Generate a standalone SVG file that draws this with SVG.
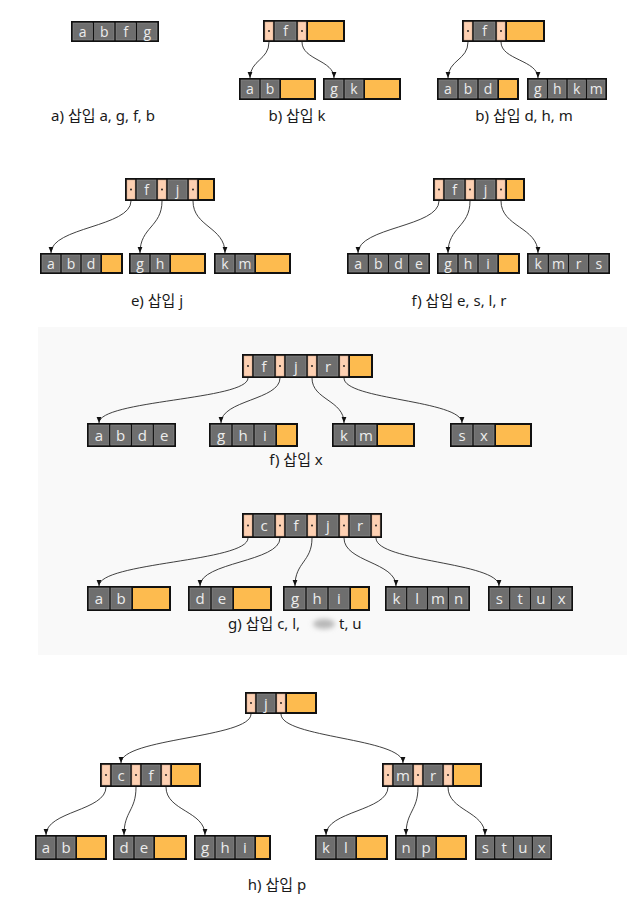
<svg xmlns="http://www.w3.org/2000/svg" width="627" height="921" viewBox="0 0 627 921">
<defs>
<style>
.bx{fill:#111}
.k{fill:#6e6e6e;stroke:#8c8c8c;stroke-width:0.6}
.p{fill:#fdd0b2;stroke:#c9a58c;stroke-width:0.5}
.o{fill:#fdbb4f}
.d{fill:#111}
.t{font-family:"Open Sans","DejaVu Sans",sans-serif;font-size:14px;fill:#ececec;text-anchor:middle}
.t2{font-family:"Open Sans","DejaVu Sans",sans-serif;font-size:15px;fill:#ececec;text-anchor:middle}
.cap{font-family:"Noto Sans","Noto Sans CJK KR",sans-serif;font-size:15px;fill:#1a1a1a;text-anchor:middle}
.e{fill:none;stroke:#2a2a2a;stroke-width:0.9}
</style>
<marker id="ah" viewBox="0 0 10 10" refX="10" refY="5" markerUnits="userSpaceOnUse" markerWidth="6" markerHeight="6" orient="auto"><path d="M0,1 L10,5 L0,9 z" fill="#111"/></marker>
<filter id="bl" x="-50%" y="-50%" width="200%" height="200%"><feGaussianBlur stdDeviation="2.5"/></filter>
</defs>
<rect x="0" y="0" width="627" height="921" fill="#ffffff"/>
<rect x="38" y="327" width="589" height="328" fill="#f9f9f9"/>

<g id="connectors" marker-end="url(#ah)">
<path class="e" d="M269,42 C269,60 250,60 250,78"/>
<path class="e" d="M302,42 C302,60 334,60 334,78"/>
<path class="e" d="M468,42 C468,60 448,60 448,78"/>
<path class="e" d="M501,42 C501,60 538,60 538,78"/>
<path class="e" d="M131,201 C131,227 51,227 51,253"/>
<path class="e" d="M162,201 C162,227 140,227 140,253"/>
<path class="e" d="M193,201 C193,227 225,227 225,253"/>
<path class="e" d="M439,201 C439,227 358,227 358,253"/>
<path class="e" d="M470,201 C470,227 448,227 448,253"/>
<path class="e" d="M501,201 C501,227 538,227 538,253"/>
<path class="e" d="M248,378 C248,400 99,400 99,423"/>
<path class="e" d="M280,378 C280,400 221,400 221,423"/>
<path class="e" d="M312,378 C312,400 344,400 344,423"/>
<path class="e" d="M344,378 C344,400 462,400 462,423"/>
<path class="e" d="M248,538 C248,562 99,562 99,586"/>
<path class="e" d="M280,538 C280,562 200,562 200,586"/>
<path class="e" d="M312,538 C312,562 295,562 295,586"/>
<path class="e" d="M344,538 C344,562 396,562 396,586"/>
<path class="e" d="M376,538 C376,562 499,562 499,586"/>
<path class="e" d="M251,714 C251,738 121,738 121,763"/>
<path class="e" d="M281,714 C281,738 403,738 403,763"/>
<path class="e" d="M106,787 C106,811 46,811 46,835"/>
<path class="e" d="M136,787 C136,811 124,811 124,835"/>
<path class="e" d="M166,787 C166,811 205,811 205,835"/>
<path class="e" d="M388,787 C388,811 326,811 326,835"/>
<path class="e" d="M418,787 C418,811 406,811 406,835"/>
<path class="e" d="M448,787 C448,811 485,811 485,835"/>
</g>

<!-- Row 1 -->
<g id="a1">
<rect class="bx" x="71" y="21" width="88" height="21"/>
<rect class="k" x="73" y="23" width="19.5" height="17"/><rect class="k" x="94.5" y="23" width="19.5" height="17"/><rect class="k" x="116" y="23" width="19.5" height="17"/><rect class="k" x="137.5" y="23" width="19.5" height="17"/>
<text class="t" y="36.5"><tspan x="82.75">a</tspan><tspan x="104.25">b</tspan><tspan x="125.75">f</tspan><tspan x="147.25">g</tspan></text>
</g>
<g id="b-top">
<rect class="bx" x="263" y="20" width="82" height="22"/>
<rect class="p" x="265" y="22" width="8" height="18"/><rect class="k" x="275" y="22" width="21" height="18"/><rect class="p" x="298" y="22" width="8" height="18"/><rect class="o" x="308" y="22" width="35" height="18"/>
<circle class="d" cx="269" cy="31" r="0.9"/><circle class="d" cx="302" cy="31" r="0.9"/>
<text class="t" x="285.5" y="36">f</text>
</g>
<g id="b-c1">
<rect class="bx" x="239" y="78" width="77" height="22"/>
<rect class="k" x="241" y="80" width="18" height="18"/><rect class="k" x="261" y="80" width="18" height="18"/><rect class="o" x="281" y="80" width="33" height="18"/>
<text class="t" y="94"><tspan x="250">a</tspan><tspan x="270">b</tspan></text>
</g>
<g id="b-c2">
<rect class="bx" x="323" y="78" width="78" height="22"/>
<rect class="k" x="325" y="80" width="18" height="18"/><rect class="k" x="345" y="80" width="18" height="18"/><rect class="o" x="365" y="80" width="34" height="18"/>
<text class="t" y="94"><tspan x="334">g</tspan><tspan x="354">k</tspan></text>
</g>
<g id="c-top">
<rect class="bx" x="462" y="20" width="83" height="22"/>
<rect class="p" x="464" y="22" width="8" height="18"/><rect class="k" x="474" y="22" width="21" height="18"/><rect class="p" x="497" y="22" width="8" height="18"/><rect class="o" x="507" y="22" width="36" height="18"/>
<circle class="d" cx="468" cy="31" r="0.9"/><circle class="d" cx="501" cy="31" r="0.9"/>
<text class="t" x="484.5" y="36">f</text>
</g>
<g id="c-c1">
<rect class="bx" x="437" y="78" width="82" height="22"/>
<rect class="k" x="439" y="80" width="18" height="18"/><rect class="k" x="459" y="80" width="18" height="18"/><rect class="k" x="479" y="80" width="18" height="18"/><rect class="o" x="499" y="80" width="18" height="18"/>
<text class="t" y="94"><tspan x="448">a</tspan><tspan x="468">b</tspan><tspan x="488">d</tspan></text>
</g>
<g id="c-c2">
<rect class="bx" x="527" y="78" width="80" height="22"/>
<rect class="k" x="529" y="80" width="17.5" height="18"/><rect class="k" x="548.5" y="80" width="17.5" height="18"/><rect class="k" x="568" y="80" width="17.5" height="18"/><rect class="k" x="587.5" y="80" width="17.5" height="18"/>
<text class="t" y="94"><tspan x="537.75">g</tspan><tspan x="557.25">h</tspan><tspan x="576.75">k</tspan><tspan x="596.25">m</tspan></text>
</g>
<text class="cap" x="103" y="121">a) 삽입 a, g, f, b</text>
<text class="cap" x="297" y="121">b) 삽입 k</text>
<text class="cap" x="524" y="121">b) 삽입 d, h, m</text>

<!-- Row 2 -->
<g id="e-top">
<rect class="bx" x="125" y="178" width="90" height="23"/>
<rect class="p" x="127" y="180" width="8" height="19"/><rect class="k" x="137" y="180" width="19" height="19"/><rect class="p" x="158" y="180" width="8" height="19"/><rect class="k" x="168" y="180" width="19" height="19"/><rect class="p" x="189" y="180" width="8" height="19"/><rect class="o" x="199" y="180" width="14" height="19"/>
<circle class="d" cx="131" cy="189.5" r="0.9"/><circle class="d" cx="162" cy="189.5" r="0.9"/><circle class="d" cx="193" cy="189.5" r="0.9"/>
<text class="t" y="194.5"><tspan x="146.5">f</tspan><tspan x="177.5">j</tspan></text>
</g>
<g id="e-c1">
<rect class="bx" x="40" y="253" width="83" height="21"/>
<rect class="k" x="42" y="255" width="18" height="17"/><rect class="k" x="62" y="255" width="18" height="17"/><rect class="k" x="82" y="255" width="18" height="17"/><rect class="o" x="102" y="255" width="19" height="17"/>
<text class="t" y="268.5"><tspan x="51">a</tspan><tspan x="71">b</tspan><tspan x="91">d</tspan></text>
</g>
<g id="e-c2">
<rect class="bx" x="129" y="253" width="77" height="21"/>
<rect class="k" x="131" y="255" width="18" height="17"/><rect class="k" x="151" y="255" width="18" height="17"/><rect class="o" x="171" y="255" width="33" height="17"/>
<text class="t" y="268.5"><tspan x="140">g</tspan><tspan x="160">h</tspan></text>
</g>
<g id="e-c3">
<rect class="bx" x="214" y="253" width="77" height="21"/>
<rect class="k" x="216" y="255" width="18" height="17"/><rect class="k" x="236" y="255" width="18" height="17"/><rect class="o" x="256" y="255" width="33" height="17"/>
<text class="t" y="268.5"><tspan x="225">k</tspan><tspan x="245">m</tspan></text>
</g>
<g id="f-top">
<rect class="bx" x="433" y="178" width="92" height="23"/>
<rect class="p" x="435" y="180" width="8" height="19"/><rect class="k" x="445" y="180" width="19" height="19"/><rect class="p" x="466" y="180" width="8" height="19"/><rect class="k" x="476" y="180" width="19" height="19"/><rect class="p" x="497" y="180" width="8" height="19"/><rect class="o" x="507" y="180" width="16" height="19"/>
<circle class="d" cx="439" cy="189.5" r="0.9"/><circle class="d" cx="470" cy="189.5" r="0.9"/><circle class="d" cx="501" cy="189.5" r="0.9"/>
<text class="t" y="194.5"><tspan x="454.5">f</tspan><tspan x="485.5">j</tspan></text>
</g>
<g id="f-c1">
<rect class="bx" x="347" y="253" width="83" height="21"/>
<rect class="k" x="349" y="255" width="18.25" height="17"/><rect class="k" x="369.25" y="255" width="18.25" height="17"/><rect class="k" x="389.5" y="255" width="18.25" height="17"/><rect class="k" x="409.75" y="255" width="18.25" height="17"/>
<text class="t" y="268.5"><tspan x="358.1">a</tspan><tspan x="378.4">b</tspan><tspan x="398.6">d</tspan><tspan x="418.9">e</tspan></text>
</g>
<g id="f-c2">
<rect class="bx" x="437" y="253" width="83" height="21"/>
<rect class="k" x="439" y="255" width="18" height="17"/><rect class="k" x="459" y="255" width="18" height="17"/><rect class="k" x="479" y="255" width="18" height="17"/><rect class="o" x="499" y="255" width="19" height="17"/>
<text class="t" y="268.5"><tspan x="448">g</tspan><tspan x="468">h</tspan><tspan x="488">i</tspan></text>
</g>
<g id="f-c3">
<rect class="bx" x="527" y="253" width="83" height="21"/>
<rect class="k" x="529" y="255" width="18.25" height="17"/><rect class="k" x="549.25" y="255" width="18.25" height="17"/><rect class="k" x="569.5" y="255" width="18.25" height="17"/><rect class="k" x="589.75" y="255" width="18.25" height="17"/>
<text class="t" y="268.5"><tspan x="538.1">k</tspan><tspan x="558.4">m</tspan><tspan x="578.6">r</tspan><tspan x="598.9">s</tspan></text>
</g>
<text class="cap" x="157" y="306">e) 삽입 j</text>
<text class="cap" x="459" y="306">f) 삽입 e, s, l, r</text>

<!-- Row 3 -->
<g id="x-top">
<rect class="bx" x="242" y="354" width="131" height="24"/>
<rect class="p" x="244" y="356" width="8" height="20"/><rect class="k" x="254" y="356" width="20" height="20"/><rect class="p" x="276" y="356" width="8" height="20"/><rect class="k" x="286" y="356" width="20" height="20"/><rect class="p" x="308" y="356" width="8" height="20"/><rect class="k" x="318" y="356" width="20" height="20"/><rect class="p" x="340" y="356" width="8" height="20"/><rect class="o" x="350" y="356" width="21" height="20"/>
<circle class="d" cx="248" cy="366" r="0.9"/><circle class="d" cx="280" cy="366" r="0.9"/><circle class="d" cx="312" cy="366" r="0.9"/><circle class="d" cx="344" cy="366" r="0.9"/>
<text class="t2" y="371.5"><tspan x="264">f</tspan><tspan x="296">j</tspan><tspan x="328">r</tspan></text>
</g>
<g id="x-c1">
<rect class="bx" x="87" y="423" width="89" height="24"/>
<rect class="k" x="89" y="425" width="19.75" height="20"/><rect class="k" x="110.75" y="425" width="19.75" height="20"/><rect class="k" x="132.5" y="425" width="19.75" height="20"/><rect class="k" x="154.25" y="425" width="19.75" height="20"/>
<text class="t2" y="440.5"><tspan x="98.9">a</tspan><tspan x="120.6">b</tspan><tspan x="142.4">d</tspan><tspan x="164.1">e</tspan></text>
</g>
<g id="x-c2">
<rect class="bx" x="209" y="423" width="89" height="24"/>
<rect class="k" x="211" y="425" width="20" height="20"/><rect class="k" x="233" y="425" width="20" height="20"/><rect class="k" x="255" y="425" width="20" height="20"/><rect class="o" x="277" y="425" width="19" height="20"/>
<text class="t2" y="440.5"><tspan x="221">g</tspan><tspan x="243">h</tspan><tspan x="265">i</tspan></text>
</g>
<g id="x-c3">
<rect class="bx" x="332" y="423" width="83" height="24"/>
<rect class="k" x="334" y="425" width="20" height="20"/><rect class="k" x="356" y="425" width="20" height="20"/><rect class="o" x="378" y="425" width="35" height="20"/>
<text class="t2" y="440.5"><tspan x="344">k</tspan><tspan x="366">m</tspan></text>
</g>
<g id="x-c4">
<rect class="bx" x="450" y="423" width="82" height="24"/>
<rect class="k" x="452" y="425" width="20" height="20"/><rect class="k" x="474" y="425" width="20" height="20"/><rect class="o" x="496" y="425" width="34" height="20"/>
<text class="t2" y="440.5"><tspan x="462">s</tspan><tspan x="484">x</tspan></text>
</g>
<text class="cap" x="296" y="465">f) 삽입 x</text>

<!-- Row 4 -->
<g id="g-top">
<rect class="bx" x="242" y="513" width="140" height="25"/>
<rect class="p" x="244" y="515" width="8" height="21"/><rect class="k" x="254" y="515" width="20" height="21"/><rect class="p" x="276" y="515" width="8" height="21"/><rect class="k" x="286" y="515" width="20" height="21"/><rect class="p" x="308" y="515" width="8" height="21"/><rect class="k" x="318" y="515" width="20" height="21"/><rect class="p" x="340" y="515" width="8" height="21"/><rect class="k" x="350" y="515" width="20" height="21"/><rect class="p" x="372" y="515" width="8" height="21"/>
<circle class="d" cx="248" cy="525.5" r="0.9"/><circle class="d" cx="280" cy="525.5" r="0.9"/><circle class="d" cx="312" cy="525.5" r="0.9"/><circle class="d" cx="344" cy="525.5" r="0.9"/><circle class="d" cx="376" cy="525.5" r="0.9"/>
<text class="t2" y="531"><tspan x="264">c</tspan><tspan x="296">f</tspan><tspan x="328">j</tspan><tspan x="360">r</tspan></text>
</g>
<g id="g-c1">
<rect class="bx" x="87" y="586" width="84" height="25"/>
<rect class="k" x="89" y="588" width="20" height="21"/><rect class="k" x="111" y="588" width="20" height="21"/><rect class="o" x="133" y="588" width="36" height="21"/>
<text class="t2" y="604"><tspan x="99">a</tspan><tspan x="121">b</tspan></text>
</g>
<g id="g-c2">
<rect class="bx" x="188" y="586" width="84" height="25"/>
<rect class="k" x="190" y="588" width="20" height="21"/><rect class="k" x="212" y="588" width="20" height="21"/><rect class="o" x="234" y="588" width="36" height="21"/>
<text class="t2" y="604"><tspan x="200">d</tspan><tspan x="222">e</tspan></text>
</g>
<g id="g-c3">
<rect class="bx" x="283" y="586" width="87" height="25"/>
<rect class="k" x="285" y="588" width="20" height="21"/><rect class="k" x="307" y="588" width="20" height="21"/><rect class="k" x="329" y="588" width="20" height="21"/><rect class="o" x="351" y="588" width="17" height="21"/>
<text class="t2" y="604"><tspan x="295">g</tspan><tspan x="317">h</tspan><tspan x="339">i</tspan></text>
</g>
<g id="g-c4">
<rect class="bx" x="385" y="586" width="85" height="25"/>
<rect class="k" x="387" y="588" width="18.75" height="21"/><rect class="k" x="407.75" y="588" width="18.75" height="21"/><rect class="k" x="428.5" y="588" width="18.75" height="21"/><rect class="k" x="449.25" y="588" width="18.75" height="21"/>
<text class="t2" y="604"><tspan x="396.4">k</tspan><tspan x="417.1">l</tspan><tspan x="437.9">m</tspan><tspan x="458.6">n</tspan></text>
</g>
<g id="g-c5">
<rect class="bx" x="488" y="586" width="85" height="25"/>
<rect class="k" x="490" y="588" width="18.75" height="21"/><rect class="k" x="510.75" y="588" width="18.75" height="21"/><rect class="k" x="531.5" y="588" width="18.75" height="21"/><rect class="k" x="552.25" y="588" width="18.75" height="21"/>
<text class="t2" y="604"><tspan x="499.4">s</tspan><tspan x="520.1">t</tspan><tspan x="540.9">u</tspan><tspan x="561.6">x</tspan></text>
</g>
<ellipse cx="324" cy="624" rx="11" ry="5" fill="#b8b8b8" filter="url(#bl)"/>
<text class="cap" style="text-anchor:start" y="629"><tspan x="228">g) 삽입 c, l,</tspan><tspan x="339">t, u</tspan></text>

<!-- Row 5 -->
<g id="h-root">
<rect class="bx" x="245" y="692" width="72" height="22"/>
<rect class="p" x="247" y="694" width="8" height="18"/><rect class="k" x="257" y="694" width="18" height="18"/><rect class="p" x="277" y="694" width="8" height="18"/><rect class="o" x="287" y="694" width="28" height="18"/>
<circle class="d" cx="251" cy="703" r="0.9"/><circle class="d" cx="281" cy="703" r="0.9"/>
<text class="t2" x="266" y="708.5">j</text>
</g>
<g id="h-l">
<rect class="bx" x="100" y="763" width="101" height="24"/>
<rect class="p" x="102" y="765" width="8" height="20"/><rect class="k" x="112" y="765" width="18" height="20"/><rect class="p" x="132" y="765" width="8" height="20"/><rect class="k" x="142" y="765" width="18" height="20"/><rect class="p" x="162" y="765" width="8" height="20"/><rect class="o" x="172" y="765" width="27" height="20"/>
<circle class="d" cx="106" cy="775" r="0.9"/><circle class="d" cx="136" cy="775" r="0.9"/><circle class="d" cx="166" cy="775" r="0.9"/>
<text class="t2" y="780.5"><tspan x="121">c</tspan><tspan x="151">f</tspan></text>
</g>
<g id="h-r">
<rect class="bx" x="382" y="763" width="100" height="24"/>
<rect class="p" x="384" y="765" width="8" height="20"/><rect class="k" x="394" y="765" width="18" height="20"/><rect class="p" x="414" y="765" width="8" height="20"/><rect class="k" x="424" y="765" width="18" height="20"/><rect class="p" x="444" y="765" width="8" height="20"/><rect class="o" x="454" y="765" width="26" height="20"/>
<circle class="d" cx="388" cy="775" r="0.9"/><circle class="d" cx="418" cy="775" r="0.9"/><circle class="d" cx="448" cy="775" r="0.9"/>
<text class="t2" y="780.5"><tspan x="403">m</tspan><tspan x="433">r</tspan></text>
</g>
<g id="h-c1">
<rect class="bx" x="35" y="835" width="72" height="25"/>
<rect class="k" x="37" y="837" width="18" height="21"/><rect class="k" x="57" y="837" width="18" height="21"/><rect class="o" x="77" y="837" width="28" height="21"/>
<text class="t2" y="853"><tspan x="46">a</tspan><tspan x="66">b</tspan></text>
</g>
<g id="h-c2">
<rect class="bx" x="113" y="835" width="74" height="25"/>
<rect class="k" x="115" y="837" width="18" height="21"/><rect class="k" x="135" y="837" width="18" height="21"/><rect class="o" x="155" y="837" width="30" height="21"/>
<text class="t2" y="853"><tspan x="124">d</tspan><tspan x="144">e</tspan></text>
</g>
<g id="h-c3">
<rect class="bx" x="194" y="835" width="77" height="25"/>
<rect class="k" x="196" y="837" width="18" height="21"/><rect class="k" x="216" y="837" width="18" height="21"/><rect class="k" x="236" y="837" width="18" height="21"/><rect class="o" x="256" y="837" width="13" height="21"/>
<text class="t2" y="853"><tspan x="205">g</tspan><tspan x="225">h</tspan><tspan x="245">i</tspan></text>
</g>
<g id="h-c4">
<rect class="bx" x="315" y="835" width="73" height="25"/>
<rect class="k" x="317" y="837" width="18" height="21"/><rect class="k" x="337" y="837" width="18" height="21"/><rect class="o" x="357" y="837" width="29" height="21"/>
<text class="t2" y="853"><tspan x="326">k</tspan><tspan x="346">l</tspan></text>
</g>
<g id="h-c5">
<rect class="bx" x="395" y="835" width="72" height="25"/>
<rect class="k" x="397" y="837" width="18" height="21"/><rect class="k" x="417" y="837" width="18" height="21"/><rect class="o" x="437" y="837" width="28" height="21"/>
<text class="t2" y="853"><tspan x="406">n</tspan><tspan x="426">p</tspan></text>
</g>
<g id="h-c6">
<rect class="bx" x="475" y="835" width="77" height="25"/>
<rect class="k" x="477" y="837" width="16.75" height="21"/><rect class="k" x="495.75" y="837" width="16.75" height="21"/><rect class="k" x="514.5" y="837" width="16.75" height="21"/><rect class="k" x="533.25" y="837" width="16.75" height="21"/>
<text class="t2" y="853"><tspan x="485.4">s</tspan><tspan x="504.1">t</tspan><tspan x="522.9">u</tspan><tspan x="541.6">x</tspan></text>
</g>
<text class="cap" x="277" y="890">h) 삽입 p</text>
</svg>
